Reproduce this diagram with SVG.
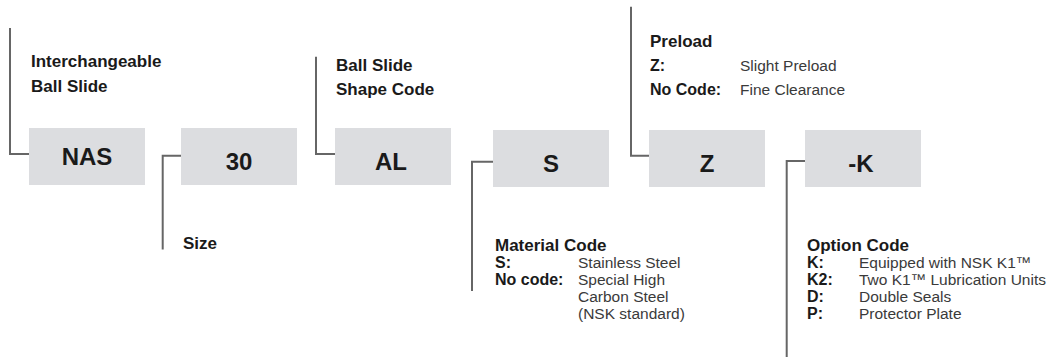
<svg xmlns="http://www.w3.org/2000/svg" width="1058" height="360" viewBox="0 0 1058 360">
<style>
.box{fill:#dcdde0}
.code{font-family:"Liberation Sans",Arial,sans-serif;font-weight:bold;font-size:24px;fill:#1a1a1a;text-anchor:middle}
.lbl{font-family:"Liberation Sans",Arial,sans-serif;font-weight:bold;font-size:17px;fill:#1a1a1a}
.key{font-family:"Liberation Sans",Arial,sans-serif;font-weight:bold;font-size:16px;fill:#1a1a1a}
.desc{font-family:"Liberation Sans",Arial,sans-serif;font-size:15.5px;fill:#3a3a3a}
.conn{fill:none;stroke:#666;stroke-width:2}
</style>
<rect width="1058" height="360" fill="#fff"/>
<g id="connectors">
<path class="conn" d="M10 28 V154 H29"/>
<path class="conn" d="M181 155.7 H162.7 V249.5"/>
<path class="conn" d="M316 56.7 V154 H335"/>
<path class="conn" d="M493 161.7 H472 V291"/>
<path class="conn" d="M631 6.7 V155.7 H649"/>
<path class="conn" d="M805 161 H786.7 V357"/>
</g>
<g id="node-nas">
<rect class="box" x="29" y="128" width="116" height="57"/>
<text class="code" x="87" y="165">NAS</text>
<text class="lbl" x="31" y="66.7">Interchangeable</text>
<text class="lbl" x="31" y="91.7">Ball Slide</text>
</g>
<g id="node-30">
<rect class="box" x="181" y="128" width="116" height="57"/>
<text class="code" x="239" y="170">30</text>
<text class="lbl" x="183" y="249">Size</text>
</g>
<g id="node-al">
<rect class="box" x="335" y="128" width="116" height="57"/>
<text class="code" x="391" y="170">AL</text>
<text class="lbl" x="336" y="71">Ball Slide</text>
<text class="lbl" x="336" y="95">Shape Code</text>
</g>
<g id="node-s">
<rect class="box" x="493" y="130" width="116" height="57"/>
<text class="code" x="551" y="171.5">S</text>
<text class="lbl" x="495" y="251">Material Code</text>
<text class="key" x="495" y="268">S:</text>
<text class="desc" x="578" y="268">Stainless Steel</text>
<text class="key" x="495" y="285">No code:</text>
<text class="desc" x="578" y="285">Special High</text>
<text class="desc" x="578" y="302">Carbon Steel</text>
<text class="desc" x="578" y="319">(NSK standard)</text>
</g>
<g id="node-z">
<rect class="box" x="649" y="130" width="116" height="57"/>
<text class="code" x="707" y="171.5">Z</text>
<text class="lbl" x="650" y="47">Preload</text>
<text class="key" x="650" y="71">Z:</text>
<text class="desc" x="740" y="71">Slight Preload</text>
<text class="key" x="650" y="95">No Code:</text>
<text class="desc" x="740" y="95">Fine Clearance</text>
</g>
<g id="node-k">
<rect class="box" x="805" y="130" width="116" height="57"/>
<text class="code" x="861" y="171.5">-K</text>
<text class="lbl" x="807" y="251">Option Code</text>
<text class="key" x="807" y="268">K:</text>
<text class="desc" x="859" y="268">Equipped with NSK K1™</text>
<text class="key" x="807" y="285">K2:</text>
<text class="desc" x="859" y="285">Two K1™ Lubrication Units</text>
<text class="key" x="807" y="302">D:</text>
<text class="desc" x="859" y="302">Double Seals</text>
<text class="key" x="807" y="319">P:</text>
<text class="desc" x="859" y="319">Protector Plate</text>
</g>
</svg>
